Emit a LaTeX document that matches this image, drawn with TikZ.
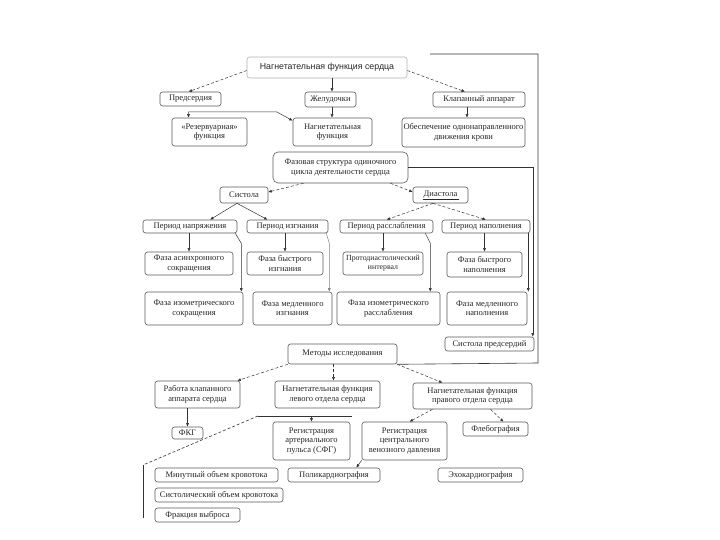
\documentclass[tikz,border=0pt]{standalone}
\usepackage{fontspec}
\setmainfont{Liberation Serif}
\newfontfamily\titlefont{Liberation Sans}
\usetikzlibrary{arrows.meta}
\begin{document}
\begin{tikzpicture}[x=1pt,y=-1pt]
\tikzset{
 box/.style={draw=black!65, line width=0.6pt, rounded corners=2.5pt, fill=white, align=center, inner sep=0pt, font=\fontsize{8.5}{9.5}\selectfont, text=black!85},
 arr/.style={-{Latex[length=3.5pt,width=3pt]}, line width=0.5pt, draw=black!80},
 darr/.style={arr, densely dashed},
 plainline/.style={line width=0.6pt, draw=black!80},
}
\useasboundingbox (0,0) rectangle (720,540);
% top
\node[box, draw=black!30, minimum width=160pt, minimum height=21pt, font=\titlefont\fontsize{8.8}{10}\selectfont] (title) at (327,67.5) {Нагнетательная функция сердца};
\node[box, minimum width=61pt, minimum height=14pt] (pred) at (190.5,99) {Предсердия};
\node[box, minimum width=51pt, minimum height=15pt] (zhel) at (330.5,99.5) {Желудочки};
\node[box, minimum width=92pt, minimum height=15pt] (klap) at (479,99.5) {Клапанный аппарат};
\node[box, minimum width=75pt, minimum height=28pt] (rez) at (209.5,132) {«Резервуарная»\\функция};
\node[box, minimum width=79pt, minimum height=28pt] (nagn) at (332.5,132) {Нагнетательная\\функция};
\node[box, minimum width=123pt, minimum height=29pt] (obesp) at (463.5,132.5) {Обеспечение однонаправленного\\движения крови};
\node[box, minimum width=135pt, minimum height=31pt, rounded corners=5pt] (faz) at (340.5,167.5) {Фазовая структура одиночного\\цикла деятельности сердца};
\node[box, minimum width=48pt, minimum height=16pt] (sist) at (244,195) {Систола};
\node[box, minimum width=55pt, minimum height=16pt] (diast) at (440.5,195) {Диастола};
% periods
\node[box, minimum width=94pt, minimum height=13pt] (pn) at (190,226.5) {Период напряжения};
\node[box, minimum width=81pt, minimum height=13pt] (pi) at (287.5,226.5) {Период изгнания};
\node[box, minimum width=93pt, minimum height=13pt] (pr) at (386.5,226.5) {Период расслабления};
\node[box, minimum width=88pt, minimum height=13pt] (pnap) at (486,226.5) {Период наполнения};
% phases 1
\node[box, minimum width=88pt, minimum height=23pt] (fa) at (189,263.5) {Фаза асинхронного\\сокращения};
\node[box, minimum width=76pt, minimum height=23pt] (fbi) at (285,263.5) {Фаза быстрого\\изгнания};
\node[box, minimum width=80pt, minimum height=23pt, font=\fontsize{7.8}{9}\selectfont] (proto) at (383,263.5) {Протодиастолический\\интервал};
\node[box, minimum width=75pt, minimum height=25pt] (fbn) at (484.5,264.5) {Фаза быстрого\\наполнения};
% phases 2
\node[box, minimum width=98pt, minimum height=33pt] (fis) at (194,308.5) {Фаза изометрического\\сокращения};
\node[box, minimum width=79pt, minimum height=33pt] (fmi) at (292.5,308.5) {Фаза медленного\\изгнания};
\node[box, minimum width=103pt, minimum height=33pt] (fir) at (388.5,308.5) {Фаза изометрического\\расслабления};
\node[box, minimum width=80pt, minimum height=33pt] (fmn) at (487,308.5) {Фаза медленного\\наполнения};
\node[box, minimum width=89pt, minimum height=14pt] (sp) at (489.5,344) {Систола предсердий};
% methods
\node[box, minimum width=109pt, minimum height=20pt] (met) at (342.5,354) {Методы исследования};
\node[box, minimum width=85pt, minimum height=27pt] (rab) at (197.5,394.5) {Работа клапанного\\аппарата сердца};
\node[box, minimum width=105pt, minimum height=27pt] (lev) at (327.5,394.5) {Нагнетательная функция\\левого отдела сердца};
\node[box, minimum width=119pt, minimum height=26pt] (prav) at (472.5,396) {Нагнетательная функция\\правого отдела сердца};
\node[box, minimum width=31pt, minimum height=12pt] (fkg) at (187.5,433) {ФКГ};
\node[box, minimum width=77pt, minimum height=38pt] (sfg) at (311.5,441) {Регистрация\\артериального\\пульса (СФГ)};
\node[box, minimum width=85pt, minimum height=38pt] (cvd) at (404.5,441) {Регистрация\\центрального\\венозного давления};
\node[box, minimum width=65pt, minimum height=14pt] (fleb) at (495.5,429) {Флебография};
\node[box, minimum width=123pt, minimum height=14pt] (minv) at (216.5,475) {Минутный объем кровотока};
\node[box, minimum width=92pt, minimum height=14pt] (poly) at (334,475) {Поликардиография};
\node[box, minimum width=85pt, minimum height=14pt] (echo) at (480.5,475) {Эхокардиография};
\node[box, minimum width=128pt, minimum height=14pt] (sist2) at (219,495) {Систолический объем кровотока};
\node[box, minimum width=85pt, minimum height=14pt] (frak) at (197.5,515) {Фракция выброса};
% underline under Диастола
\draw[line width=0.5pt, draw=black!85] ([xshift=-18pt,yshift=-4.5pt]diast.center) -- ([xshift=18pt,yshift=-4.5pt]diast.center);
% connectors top
\draw[darr] ([yshift=-3pt]title.west) -- ([xshift=-2pt]pred.north);
\draw[arr] ([xshift=1.5pt]zhel.north |- title.south) -- ([xshift=1.5pt]zhel.north);
\draw[darr] ([yshift=-3pt]title.east) -- ([xshift=-14pt]klap.north);
\draw[arr] ([xshift=1.5pt]zhel.south) -- ([xshift=1.5pt]zhel.south |- nagn.north);
\draw[arr] ([xshift=-12pt]klap.south) -- ([xshift=-12pt]klap.south |- obesp.north);
\draw[arr, {Latex[length=3.5pt,width=3pt]}-{Latex[length=3.5pt,width=3pt]}] ([xshift=-21pt]rez.north) |- (277,112) -- ([yshift=-3pt]nagn.north west);
\draw[darr] ([xshift=-37pt]faz.south) -- ([yshift=3pt]sist.east);
\draw[darr] ([xshift=50pt]faz.south) -- ([yshift=3pt]diast.west);
\draw[arr] ([xshift=-7pt]sist.south) -- ([xshift=20pt]pn.north);
\draw[arr] ([xshift=-7pt]sist.south) -- ([xshift=-20pt]pi.north);
\draw[darr] ([xshift=-7.5pt]diast.south) -- (pr.north);
\draw[darr] ([xshift=-7.5pt]diast.south) -- (pnap.north);
% periods to phases
\draw[arr] (fa.north |- pn.south) -- (fa.north);
\draw[arr] (fbi.north |- pi.south) -- (fbi.north);
\draw[arr] (proto.north |- pr.south) -- (proto.north);
\draw[arr] (fbn.north |- pnap.south) -- (fbn.north);
\draw[arr] ([xshift=-2pt]pn.south east) -- ++(6,10) -- ([xshift=-2pt]fis.north east);
\draw[arr, draw=black!50] ([xshift=-2pt]pi.south east) -- ++(3,10) -- ([xshift=-3pt]fmi.north east);
\draw[arr] ([xshift=-8pt]pr.south east) -- ++(5,10) -- ([xshift=-10pt]fir.north east);
\draw[arr] ([xshift=-2pt]pnap.south east) -- ([xshift=1pt]fmn.north east);
\draw[arr] (faz.east) -| ([xshift=-1.5pt]sp.north east);
\coordinate (tstart) at (430,54);
\draw[plainline] (tstart) -| (538,363) -- (met.south east);
% methods
\draw[darr] (met.south west) -- ([xshift=-3pt]rab.north east);
\draw[darr] ([xshift=-9pt]met.south) -- ([xshift=-9pt]met.south |- lev.north);
\draw[darr] (met.south east) -- ([xshift=-30pt]prav.north);
\draw[arr] (fkg.north |- rab.south) -- (fkg.north);
\coordinate (busL) at (258,416);
\coordinate (busR) at (352,416);
\coordinate (bendA) at (143,465);
\coordinate (endA) at (143,518);
\draw[plainline] (busL) -- (busR);
\draw[arr] (sfg.north |- busL) -- (sfg.north);
\draw[plainline, densely dashed] (busL) -- (bendA);
\draw[plainline] (bendA) -- (endA);
\draw[darr] ([xshift=-40pt]prav.south) -- ([xshift=5pt]cvd.north);
\draw[darr] ([xshift=18pt]prav.south) -- ([xshift=8pt]fleb.north);
\draw[arr] (cvd.south west) -- ([xshift=-24pt]poly.north east);
\end{tikzpicture}
\end{document}
